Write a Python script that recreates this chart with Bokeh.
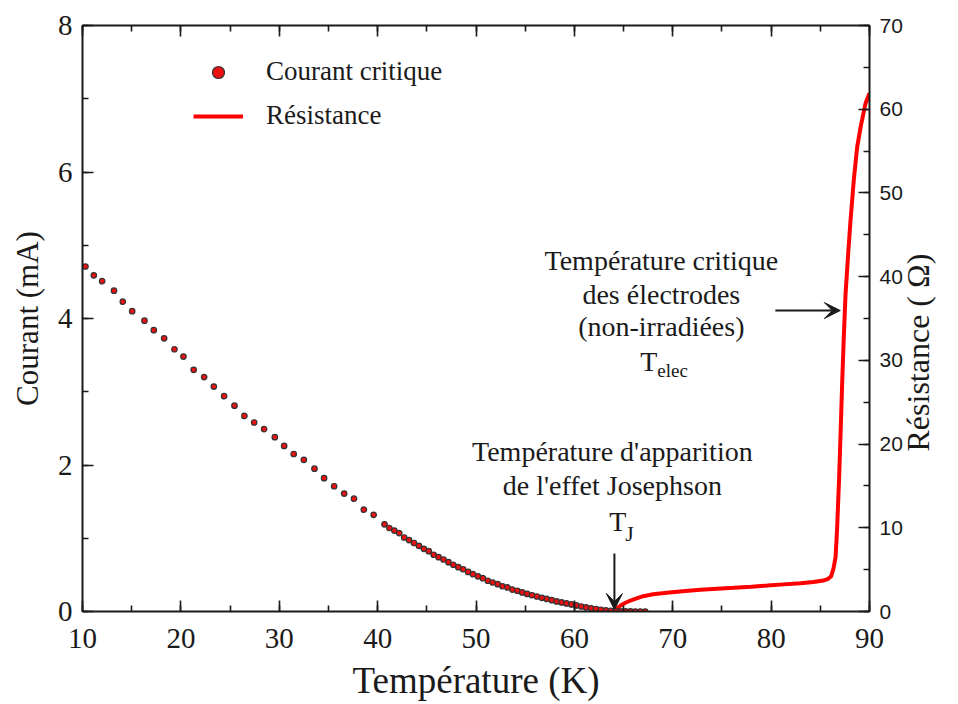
import math
from bokeh.plotting import figure
from bokeh.models import (Range1d, LinearAxis, Legend, LegendItem, Arrow, VeeHead,
                          Label, SingleIntervalTicker)
from bokeh.embed import file_html
from bokeh.resources import INLINE

# ---------------- data ----------------
# Courant critique (mA) vs temperature (K)
temp_ic = [10.3, 11.15, 12.0, 13.2, 14.1, 15.05, 16.3, 17.25, 18.3, 19.35, 20.26, 21.3,
           22.37, 23.35, 24.4, 25.45, 26.46, 27.45, 28.46, 29.55, 30.5, 31.47, 32.5,
           33.58, 34.56, 35.58, 36.6, 37.6, 38.6, 39.6,
           40.7, 41.2, 41.7, 42.2, 42.7, 43.2, 43.7, 44.2, 44.7, 45.2, 45.7, 46.2, 46.7,
           47.2, 47.7, 48.2, 48.7, 49.2, 49.7, 50.2, 50.7, 51.2, 51.7, 52.2, 52.7, 53.2,
           53.7, 54.2, 54.7, 55.2, 55.7, 56.2, 56.7, 57.2, 57.7, 58.2, 58.7, 59.2, 59.7,
           60.2, 60.7, 61.2, 61.7, 62.2, 62.7, 63.2, 63.7, 64.2, 64.7, 65.2, 65.7, 66.2,
           66.7, 67.2]
courant = [4.71, 4.59, 4.51, 4.38, 4.23, 4.10, 3.97, 3.84, 3.73, 3.58, 3.48, 3.30,
           3.20, 3.07, 2.94, 2.81, 2.67, 2.58, 2.49, 2.38, 2.26, 2.15, 2.07,
           1.95, 1.82, 1.71, 1.61, 1.54, 1.39, 1.32,
           1.19, 1.14, 1.105, 1.07, 1.01, 0.975, 0.935, 0.897, 0.856, 0.823, 0.775, 0.741,
           0.71, 0.673, 0.638, 0.605, 0.577, 0.54, 0.51, 0.48, 0.455, 0.42, 0.396, 0.373,
           0.345, 0.328, 0.30, 0.283, 0.26, 0.24, 0.222, 0.205, 0.187, 0.172, 0.155,
           0.138, 0.124, 0.11, 0.097, 0.083, 0.068, 0.055, 0.043, 0.034, 0.024, 0.015,
           0.008, 0.004, 0.002, 0.001, 0.001, 0.0, 0.0, 0.0]

# Resistance (Ohm) vs temperature (K)
temp_r = [63.8, 64.0, 64.4, 64.7, 65.2, 65.7, 66.4, 67.0, 68.0, 69.4, 71.0, 72.8, 74.5,
          76.2, 78.0, 79.6, 81.3, 83.0, 84.3, 85.3, 85.8, 86.1, 86.35, 86.55, 86.7,
          86.9, 87.07, 87.23, 87.4, 87.57, 87.83, 88.07, 88.4, 88.75, 89.1, 89.6, 90.0]
resistance = [0.0, 0.1, 0.45, 0.72, 1.05, 1.31, 1.6, 1.83, 2.05, 2.23, 2.42, 2.59, 2.72,
              2.83, 2.97, 3.1, 3.24, 3.38, 3.52, 3.7, 3.9, 4.2, 5.2, 6.5, 9.7,
              15.6, 21.6, 27.6, 33.2, 38.0, 42.7, 46.7, 51.5, 55.5, 57.9, 60.7, 61.9]

series_names = ["Courant critique", "Résistance"]
axis_titles = ["Température (K)", "Courant (mA)", "Résistance ( Ω)"]

SERIF = "Liberation Serif"
SANS = "Liberation Sans"
INK = "#1a1a1a"

p = figure(width=958, height=704, x_range=Range1d(10, 90), y_range=Range1d(0, 8),
           output_backend="svg", toolbar_location=None,
           min_border_left=82, min_border_right=89, min_border_top=25, min_border_bottom=93)
p.extra_y_ranges = {"res": Range1d(0, 70)}
p.xgrid.visible = False
p.ygrid.visible = False
p.outline_line_color = None
p.background_fill_color = "white"
p.border_fill_color = "white"


def style_axis(ax, font, size, standoff):
    ax.axis_line_width = 2
    ax.axis_line_color = INK
    ax.major_tick_line_color = INK
    ax.minor_tick_line_color = INK
    ax.major_tick_line_width = 1.6
    ax.minor_tick_line_width = 1.6
    ax.major_tick_in = 11
    ax.major_tick_out = 0
    ax.minor_tick_in = 6
    ax.minor_tick_out = 0
    ax.major_label_text_font = font
    ax.major_label_text_font_size = size
    ax.major_label_text_color = INK
    ax.major_label_standoff = standoff
    ax.axis_label_text_font = SERIF
    ax.axis_label_text_font_style = "normal"
    ax.axis_label_text_color = INK


xa = p.xaxis[0]
xa.ticker = SingleIntervalTicker(interval=10, num_minor_ticks=2)
style_axis(xa, SERIF, "29px", 17)
xa.axis_label = axis_titles[0]
xa.axis_label_text_font_size = "37px"
xa.axis_label_standoff = 9

ya = p.yaxis[0]
ya.ticker = SingleIntervalTicker(interval=2, num_minor_ticks=2)
style_axis(ya, SERIF, "29px", 10)
ya.axis_label = axis_titles[1]
ya.axis_label_text_font_size = "31px"
ya.axis_label_standoff = 10

ra = LinearAxis(y_range_name="res", ticker=SingleIntervalTicker(interval=10, num_minor_ticks=2))
style_axis(ra, SANS, "21px", 10)
ra.axis_label_text_font_size = "32px"
ra.axis_label_standoff = 12
props = ra.properties()
if "axis_label_orientation" in props and "axis_label_align" in props:
    # read bottom-to-top like the reference; anchor at the axis start and lift the
    # visible text to the middle of the axis with non-breaking spaces
    ra.axis_label_orientation = math.pi / 2
    ra.axis_label_align = "start"
    ra.axis_label = "\u00a0" * 20 + axis_titles[2]
else:
    ra.axis_label = axis_titles[2]
p.add_layout(ra, "right")

ta = LinearAxis(ticker=SingleIntervalTicker(interval=10, num_minor_ticks=2))
style_axis(ta, SERIF, "10px", 2)
ta.major_label_text_color = None
p.add_layout(ta, "above")

ln = p.line(temp_r, resistance, y_range_name="res", line_color="#ff0000", line_width=4)
sc = p.scatter(temp_ic, courant, size=5.5, fill_color="#ee1111", line_color="#333333",
               line_width=1.2)

legend = Legend(items=[LegendItem(label=series_names[0], renderers=[sc]),
                       LegendItem(label=series_names[1], renderers=[ln])],
                location=(111, 480), border_line_color=None, background_fill_alpha=0,
                label_text_font=SERIF, label_text_font_size="27px", label_text_color=INK,
                glyph_width=50, glyph_height=30, label_height=30, spacing=13,
                label_standoff=23, padding=0, margin=0)
p.add_layout(legend)


def txt(x, y, s, size="28px", align="center"):
    p.add_layout(Label(x=x, y=y, text=s, text_align=align, text_baseline="alphabetic",
                       text_font=SERIF, text_font_size=size, text_color=INK))


# annotation: electrode critical temperature
txt(68.84, 4.792, "Température critique")
txt(68.84, 4.328, "des électrodes")
txt(68.84, 3.891, "(non-irradiées)")
txt(68.43, 3.413, "T", align="right")
txt(68.43, 3.290, "elec", size="19px", align="left")

# annotation: Josephson onset
txt(63.86, 2.184, "Température d'apparition")
txt(63.86, 1.720, "de l'effet Josephson")
txt(65.28, 1.229, "T", align="right")
txt(65.18, 1.065, "J", size="22px", align="left")

p.add_layout(Arrow(end=VeeHead(size=16, fill_color=INK, line_color=INK),
                   x_start=80.43, y_start=4.109, x_end=87.03, y_end=4.109,
                   line_color=INK, line_width=2))
p.add_layout(Arrow(end=VeeHead(size=16, fill_color=INK, line_color=INK),
                   x_start=64.07, y_start=0.792, x_end=64.07, y_end=0.027,
                   line_color=INK, line_width=2))

open("out.html", "w").write(file_html(p, INLINE))
